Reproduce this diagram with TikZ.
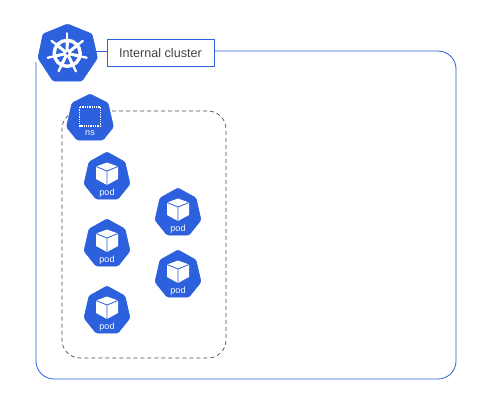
\documentclass[tikz,border=0pt]{standalone}
\usepackage{fontspec}
\setmainfont{Liberation Sans}
\definecolor{kblue}{HTML}{2C60DC}
\definecolor{ktext}{HTML}{444444}
\tikzset{
  frameline/.style={draw=kblue,line width=0.8pt},
  nsline/.style={draw=black!70,line width=0.7pt,dash pattern=on 4pt off 3pt},
  labelbox/.style={draw=kblue,line width=0.8pt,fill=white,minimum width=107pt,minimum height=27pt,inner sep=0pt,text=ktext,font=\fontsize{12.6}{14}\selectfont},
  smalltext/.style={text=white,inner sep=0pt,font=\fontsize{9}{10}\selectfont},
  hepta/.style={fill=kblue,draw=kblue,line width=0.6pt,line join=round,rounded corners=1.5pt},
  pics/pod/.style={code={
    \path[hepta] (0,0) -- (18,10) -- (23,32) -- (11,47) -- (-11,47) -- (-23,32) -- (-18,10) -- cycle;
    \fill[white] (0,10.5) -- (11,14.5) -- (11,27) -- (0,33) -- (-11,27) -- (-11,14.5) -- cycle;
    \draw[kblue,line width=0.8pt] (-11,14.5) -- (0,19) -- (11,14.5) (0,19) -- (0,33);
    \node[smalltext] (#1) at (0,41) {pod};
  }}
}
\begin{document}
\begin{tikzpicture}[x=1pt,y=-1pt]
\useasboundingbox (0,0) rectangle (500,402);
\fill[white] (0,0) rectangle (500,402);
% frame
\coordinate (fstart) at (36,62);
\coordinate (fend) at (214,51);
\draw[frameline,rounded corners=18pt] (fstart) -- (36,379) -- (456,379) -- (456,51) -- (fend);
% dashed namespace
\coordinate (nsa) at (112,111);
\draw[nsline,rounded corners=18pt] (nsa) -- (226,111) -- (226,358) -- (62,358) -- (62,111) -- (nsa);
% cluster icon
\path[hepta] (67.5,24) -- (92,34) -- (97.5,58) -- (82,81) -- (53,81) -- (38,58) -- (43,34) -- cycle;
\begin{scope}[shift={(67.2,53.3)},white]
  \draw[line width=3.4pt] (0,0) circle[radius=13];
  \foreach \a in {-90,-38.57,12.86,64.29,115.71,167.14,218.57}{
    \fill (\a-28:3) -- (\a-7:14) -- (\a+7:14) -- (\a+28:3) -- cycle;
    \draw[line width=2.3pt,line cap=round] (\a:13.5) -- (\a:20);
  }
  \fill (0,0) circle[radius=4.4];
  \fill[kblue] (0,0) circle[radius=1.5];
\end{scope}
% label box
\node[labelbox] (lbl) at (160.5,52.5) {Internal cluster};
\coordinate (hr) at (96,51);
\draw[frameline] (hr) -- (lbl.west|-hr);
% ns icon
\path[hepta] (90,94) -- (108,103) -- (113.5,127) -- (103,140) -- (77,140) -- (66.5,127) -- (72,103) -- cycle;
\draw[white,line width=1.2pt,dash pattern=on 1.3pt off 1pt] (79.5,107) rectangle (100.5,126);
\node[smalltext] (nslabel) at (90,133) {ns};
% pods
\pic at (107,152) {pod=p1};
\pic at (178,188) {pod=p2};
\pic at (107,219) {pod=p3};
\pic at (178,250) {pod=p4};
\pic at (107,286) {pod=p5};
\end{tikzpicture}
\end{document}
